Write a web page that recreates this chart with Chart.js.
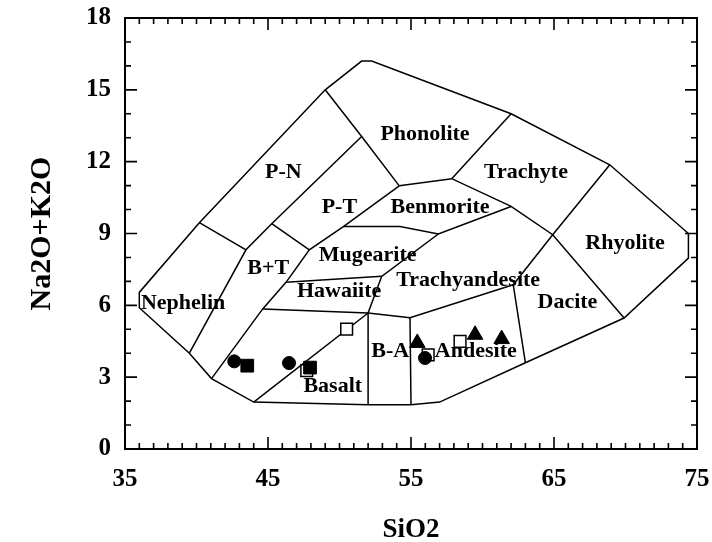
<!DOCTYPE html>
<html>
<head>
<meta charset="utf-8">
<script src="https://cdn.jsdelivr.net/npm/chart.js@4.4.1/dist/chart.umd.min.js"></script>
<style>
  html, body { margin: 0; padding: 0; background: #fff; }
  #wrap { width: 712px; height: 542px; }
</style>
</head>
<body>
<div id="wrap"><canvas id="tas" width="712" height="542"></canvas></div>
<script>
// Axis ticks that carry a label
const xTickLabels = [35, 45, 55, 65, 75];
const yTickLabels = [0, 3, 6, 9, 12, 15, 18];

// Outer envelope of the classification fields (SiO2, Na2O+K2O)
const outerBoundary = [
  [40.2, 9.45], [49.0, 15.0], [51.55, 16.2], [52.25, 16.2], [62.0, 14.0],
  [68.9, 11.87], [74.4, 9.0], [74.4, 7.97], [69.9, 5.47], [63.0, 3.6],
  [57.0, 1.96], [55.0, 1.85], [52.0, 1.85], [44.0, 1.96], [41.05, 2.94],
  [39.5, 4.0], [36.0, 5.9], [36.0, 6.54], [40.2, 9.45]
];

// Internal field boundaries
const fieldDividers = [
  [[49.0, 15.0], [51.55, 13.05], [54.18, 10.99]],
  [[51.55, 13.05], [45.26, 9.41], [43.46, 8.32], [39.5, 4.0]],
  [[40.2, 9.45], [43.46, 8.32]],
  [[45.26, 9.41], [47.89, 8.32]],
  [[54.18, 10.99], [50.27, 9.29], [47.89, 8.32], [46.26, 6.96], [44.63, 5.85], [41.05, 2.94]],
  [[54.18, 10.99], [57.85, 11.29], [62.0, 10.13], [64.91, 8.95], [69.9, 5.47]],
  [[57.85, 11.29], [62.0, 14.0]],
  [[68.9, 11.87], [64.91, 8.95], [62.15, 6.86], [63.0, 3.6]],
  [[50.27, 9.29], [54.23, 9.29], [56.91, 8.98], [62.0, 10.13]],
  [[56.91, 8.98], [52.95, 7.21], [52.0, 5.68], [52.0, 1.85]],
  [[52.95, 7.21], [46.26, 6.96]],
  [[44.63, 5.85], [52.0, 5.68], [54.93, 5.48], [62.15, 6.86]],
  [[54.93, 5.48], [55.0, 1.85]],
  [[44.0, 1.96], [52.0, 5.68]]
];

// Field names and the (SiO2, Na2O+K2O) point their baseline centre sits on
const fieldNames = ['Phonolite', 'P-N', 'P-T', 'Trachyte', 'Benmorite', 'Rhyolite', 'Mugearite',
  'B+T', 'Hawaiite', 'Trachyandesite', 'Nephelin', 'Dacite', 'B-A', 'Andesite', 'Basalt'];
const fieldAnchors = [
  [55.98, 12.89], [46.07, 11.32], [49.99, 9.85], [63.04, 11.32], [57.03, 9.85], [69.97, 8.35],
  [51.97, 7.87], [45.02, 7.32], [49.97, 6.35], [59.0, 6.82], [39.06, 5.85], [65.94, 5.89],
  [53.55, 3.84], [59.53, 3.84], [49.53, 2.36]
];

// Samples
const filledCircles = [[42.64, 3.66], [46.47, 3.59], [55.98, 3.80]];
const filledSquares = [[43.55, 3.48], [47.94, 3.40]];
const openSquares = [[50.5, 5.01], [47.71, 3.27], [58.43, 4.49], [56.2, 3.93]];
const filledTriangles = [[55.44, 4.43], [59.48, 4.77], [61.34, 4.59]];

const FONT = "'Liberation Serif', 'Times New Roman', serif";
const toXY = arr => arr.map(([x, y]) => ({ x, y }));

const lineSet = pts => ({
  type: 'line',
  data: toXY(pts),
  borderColor: '#000',
  borderWidth: 1.5,
  pointRadius: 0,
  fill: false,
  tension: 0,
  order: 10
});

const datasets = [
  lineSet(outerBoundary),
  ...fieldDividers.map(lineSet),
  { type: 'scatter', data: toXY(filledTriangles), pointStyle: 'triangle', pointRadius: 9,
    backgroundColor: '#000', borderColor: '#000', borderWidth: 1, order: 1 },
  { type: 'scatter', data: toXY(filledCircles), pointStyle: 'circle', pointRadius: 6.5,
    backgroundColor: '#000', borderColor: '#000', borderWidth: 1, order: 2 },
  { type: 'scatter', data: toXY(filledSquares), pointStyle: 'rect', pointRadius: 9,
    backgroundColor: '#000', borderColor: '#000', borderWidth: 1, order: 3 },
  { type: 'scatter', data: toXY(openSquares), pointStyle: 'rect', pointRadius: 8.3,
    backgroundColor: '#fff', borderColor: '#000', borderWidth: 1.5, order: 4 }
];

// Field names, drawn under the boundaries and samples
const fieldLabels = {
  id: 'fieldLabels',
  beforeDatasetsDraw(chart) {
    const { ctx, scales: { x, y } } = chart;
    ctx.save();
    ctx.fillStyle = '#000';
    ctx.font = `bold 22px ${FONT}`;
    ctx.textAlign = 'center';
    ctx.textBaseline = 'alphabetic';
    fieldNames.forEach((name, i) => {
      const [sx, sy] = fieldAnchors[i];
      ctx.fillText(name, x.getPixelForValue(sx), y.getPixelForValue(sy));
    });
    ctx.restore();
  }
};

// Closed frame with inward ticks on all four sides
const frameTicks = {
  id: 'frameTicks',
  afterDatasetsDraw(chart) {
    const { ctx, chartArea: a, scales: { x, y } } = chart;
    ctx.save();
    ctx.strokeStyle = '#000';
    ctx.lineWidth = 1.6;
    ctx.beginPath();
    x.ticks.forEach(t => {
      const px = x.getPixelForValue(t.value);
      const len = t.label !== '' ? 12 : 6;
      ctx.moveTo(px, a.bottom); ctx.lineTo(px, a.bottom - len);
      ctx.moveTo(px, a.top); ctx.lineTo(px, a.top + len);
    });
    y.ticks.forEach(t => {
      const py = y.getPixelForValue(t.value);
      const len = t.label !== '' ? 12 : 6;
      ctx.moveTo(a.left, py); ctx.lineTo(a.left + len, py);
      ctx.moveTo(a.right, py); ctx.lineTo(a.right - len, py);
    });
    ctx.stroke();
    ctx.lineWidth = 2;
    ctx.strokeRect(a.left, a.top, a.right - a.left, a.bottom - a.top);
    ctx.restore();
  }
};

const tickFont = { family: FONT, size: 25, weight: 'bold' };

// Outward tick marks are kept invisible; they only set the label offset
const hiddenGrid = len => ({
  display: true, drawOnChartArea: false, drawTicks: true,
  tickLength: len, tickColor: 'rgba(0,0,0,0)', color: 'rgba(0,0,0,0)'
});

new Chart(document.getElementById('tas'), {
  type: 'scatter',
  data: { datasets },
  options: {
    responsive: false,
    animation: false,
    events: [],
    layout: { padding: { top: 18, right: 15, left: 0, bottom: 0 } },
    plugins: { legend: { display: false }, tooltip: { enabled: false } },
    scales: {
      x: {
        type: 'linear', position: 'bottom', min: 35, max: 75,
        grid: hiddenGrid(16),
        border: { display: false },
        ticks: {
          stepSize: 1, autoSkip: false, maxRotation: 0, padding: 0,
          color: '#000', font: tickFont,
          callback: v => xTickLabels.includes(Math.round(v)) ? String(Math.round(v)) : ''
        },
        title: { display: true, text: 'SiO2', color: '#000',
                 font: { family: FONT, size: 27, weight: 'bold' },
                 padding: { top: 0, bottom: -4 } },
        afterFit: s => { s.height = 93; }
      },
      y: {
        type: 'linear', position: 'left', min: 0, max: 18,
        grid: hiddenGrid(14),
        border: { display: false },
        ticks: {
          stepSize: 1, autoSkip: false, padding: 0,
          color: '#000', font: tickFont,
          callback: v => yTickLabels.includes(Math.round(v)) ? String(Math.round(v)) : ''
        },
        title: { display: true, text: 'Na2O+K2O', color: '#000',
                 font: { family: FONT, size: 30, weight: 'bold' },
                 padding: { top: 24, bottom: 0 } },
        afterFit: s => { s.width = 125; }
      }
    }
  },
  plugins: [fieldLabels, frameTicks]
});
</script>
</body>
</html>
